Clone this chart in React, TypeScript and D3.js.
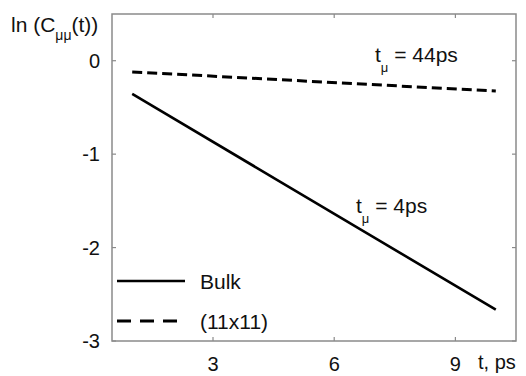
import React from "react";
import * as d3 from "d3";

// Time axis (ps) and ln C_mumu(t) values for the two systems
const timePs = [1, 10];
const bulkLnC = [-0.355, -2.665];
const confinedLnC = [-0.12, -0.325];

const xTicks = [3, 6, 9];
const yTicks = [0, -1, -2, -3];

const seriesNames = ["Bulk", "(11x11)"];

const W = 526;
const H = 376;
const M = { left: 112, right: 516, top: 14, bottom: 341 };

export default function App() {
  const x = d3.scaleLinear().domain([0.5, 10.5]).range([M.left, M.right]);
  const y = d3.scaleLinear().domain([-3, 0.5]).range([M.bottom, M.top]);

  const line = d3
    .line<[number, number]>()
    .x((d) => x(d[0]))
    .y((d) => y(d[1]));

  const bulk = timePs.map((t, i) => [t, bulkLnC[i]] as [number, number]);
  const conf = timePs.map((t, i) => [t, confinedLnC[i]] as [number, number]);

  const font = "'Liberation Sans', Arial, sans-serif";
  const frame = "#8a8a8a";
  const tickLen = 4;

  return (
    <svg
      width={W}
      height={H}
      style={{ position: "absolute", left: 0, top: 0, background: "#fff" }}
      fontFamily={font}
    >
      <rect x={0} y={0} width={W} height={H} fill="#fff" />

      {/* frame */}
      <rect
        x={M.left}
        y={M.top}
        width={M.right - M.left}
        height={M.bottom - M.top}
        fill="none"
        stroke={frame}
        strokeWidth={1.5}
      />

      {/* inward ticks on all four sides */}
      {xTicks.map((t) => (
        <g key={"xt" + t}>
          <line x1={x(t)} x2={x(t)} y1={M.bottom} y2={M.bottom - tickLen} stroke={frame} strokeWidth={1.2} />
          <line x1={x(t)} x2={x(t)} y1={M.top} y2={M.top + tickLen} stroke={frame} strokeWidth={1.2} />
          <text x={x(t)} y={371} fontSize={20} textAnchor="middle" fill="#111">
            {t}
          </text>
        </g>
      ))}
      {yTicks.map((t) => (
        <g key={"yt" + t}>
          <line x1={M.left} x2={M.left + tickLen} y1={y(t)} y2={y(t)} stroke={frame} strokeWidth={1.2} />
          <line x1={M.right} x2={M.right - tickLen} y1={y(t)} y2={y(t)} stroke={frame} strokeWidth={1.2} />
          <text x={100} y={y(t)} dy="0.35em" fontSize={20} textAnchor="end" fill="#111">
            {t}
          </text>
        </g>
      ))}

      {/* axis titles */}
      <text x={11} y={32} fontSize={21} fill="#111">
        ln (C
        <tspan dy={8} fontSize={14}>μμ</tspan>
        <tspan dy={-8}>(t))</tspan>
      </text>
      <text x={478} y={369} fontSize={20} fill="#111">
        t, ps
      </text>

      {/* data lines */}
      <path d={line(conf) ?? ""} fill="none" stroke="#000" strokeWidth={3} strokeDasharray="10 5" />
      <path d={line(bulk) ?? ""} fill="none" stroke="#000" strokeWidth={2.6} />

      {/* relaxation time annotations */}
      <text x={375} y={62} fontSize={21} fill="#111">
        t
        <tspan dy={10} fontSize={13}>μ</tspan>
        <tspan dy={-10}> = 44ps</tspan>
      </text>
      <text x={356} y={213} fontSize={21} fill="#111">
        t
        <tspan dy={10} fontSize={13}>μ</tspan>
        <tspan dy={-10}> = 4ps</tspan>
      </text>

      {/* legend */}
      <line x1={117} x2={185} y1={281} y2={281} stroke="#000" strokeWidth={2.6} />
      <text x={200} y={289} fontSize={21} fill="#111">
        {seriesNames[0]}
      </text>
      <line x1={117} x2={180} y1={321} y2={321} stroke="#000" strokeWidth={3} strokeDasharray="14 9" />
      <text x={200} y={329} fontSize={21} fill="#111">
        {seriesNames[1]}
      </text>
    </svg>
  );
}
